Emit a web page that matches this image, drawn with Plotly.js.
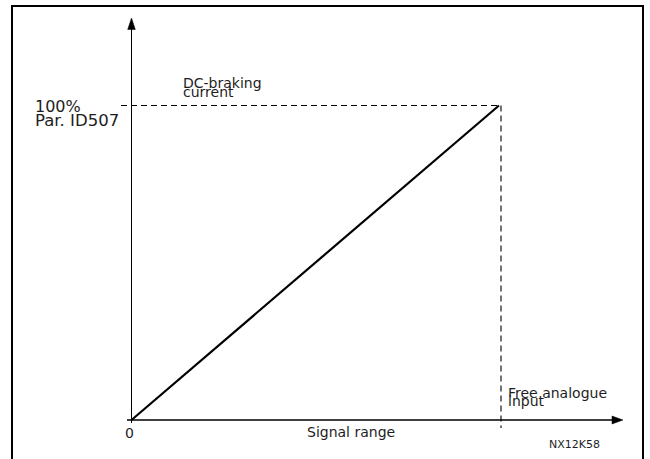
<!DOCTYPE html>
<html>
<head>
<meta charset="utf-8">
<script src="https://cdn.plot.ly/plotly-3.0.1.min.js"></script>
<style>
html,body{margin:0;padding:0;background:#fff;}
#chart{width:650px;height:459px;}
</style>
</head>
<body>
<div id="chart"></div>
<script>
// ---- data ----
const signalRange = [0, 1];          // fraction of free analogue input signal range
const brakingCurrent = [0, 100];     // % of Par. ID507 (DC-braking current)
const yLabels = ["100%", "Par. ID507"];
const yTitle = ["DC-braking", "current"];
const xTitle = ["Free analogue", "input"];
const xRangeLabel = "Signal range";
const originLabel = "0";
const figCode = "NX12K58";

// ---- layout geometry (pixels) ----
const W = 650, H = 459;
const X0PX = 131.5, X1PX = 499, Y0PX = 420, Y1PX = 105.5;
const xs = (X1PX - X0PX) / (signalRange[1] - signalRange[0]);
const ys = (Y0PX - Y1PX) / (brakingCurrent[1] - brakingCurrent[0]);
const xr = [signalRange[0] - X0PX / xs, signalRange[0] + (W - X0PX) / xs];
const yr = [brakingCurrent[0] - (H - Y0PX) / ys, brakingCurrent[0] + Y0PX / ys];
const px2x = px => xr[0] + px / xs;
const py2y = py => yr[1] - py / ys;
const dx = p => p / xs, dy = p => p / ys;
const px2p = px => px / W, py2p = py => 1 - py / H;

const xEnd = signalRange[signalRange.length - 1];
const yEnd = brakingCurrent[brakingCurrent.length - 1];
const ink = '#000';
const txt = '#1e1e1e';
const FONT = 'DejaVu Sans, Verdana, sans-serif';

const shapes = [
  // outer frame
  {type:'rect', xref:'paper', yref:'paper', x0:px2p(12), x1:px2p(643), y0:py2p(480), y1:py2p(6),
   line:{color:ink, width:2}, fillcolor:'rgba(0,0,0,0)'},
  // x axis
  {type:'line', xref:'x', yref:'y', x0:px2x(127), x1:px2x(614), y0:brakingCurrent[0], y1:brakingCurrent[0],
   line:{color:ink, width:1.4}},
  {type:'path', xref:'x', yref:'y',
   path:`M ${px2x(623)} ${brakingCurrent[0]} L ${px2x(612)} ${brakingCurrent[0]+dy(4)} L ${px2x(612)} ${brakingCurrent[0]-dy(4)} Z`,
   fillcolor:ink, line:{color:ink, width:0.5}},
  // y axis
  {type:'line', xref:'x', yref:'y', x0:signalRange[0], x1:signalRange[0], y0:py2y(423), y1:py2y(29),
   line:{color:ink, width:1}},
  {type:'path', xref:'x', yref:'y',
   path:`M ${signalRange[0]} ${py2y(18)} L ${signalRange[0]+dx(3.8)} ${py2y(29.5)} L ${signalRange[0]-dx(3.8)} ${py2y(29.5)} Z`,
   fillcolor:ink, line:{color:ink, width:0.5}},
  // dashed guides
  {type:'line', xref:'x', yref:'y', x0:px2x(121), x1:xEnd + dx(2), y0:yEnd, y1:yEnd,
   line:{color:ink, width:1.1, dash:'6px,4px'}},
  {type:'line', xref:'x', yref:'y', x0:xEnd + dx(2), x1:xEnd + dx(2), y0:yEnd, y1:py2y(428),
   line:{color:ink, width:1.1, dash:'6px,4px'}}
];

function ann(text, xpx, baselinePx, size, anchor) {
  return {
    text: text, xref:'paper', yref:'paper',
    x: px2p(xpx), y: py2p(baselinePx - 0.346 * size),
    xanchor: anchor || 'left', yanchor:'middle', showarrow:false,
    font:{family:FONT, size:size, color:txt}
  };
}

const annotations = [
  ann(yLabels[0], 33, 111.7, 16),
  ann(yLabels[1], 33, 126.7, 16.5),
  ann(yTitle[0], 181, 88.3, 14),
  ann(yTitle[1], 181, 96.9, 14),
  ann(xTitle[0], 506, 398.3, 14),
  ann(xTitle[1], 506, 406.2, 14),
  ann(xRangeLabel, 305, 436.7, 14),
  ann(originLabel, 129.3, 437.7, 14, 'center'),
  ann(figCode, 547, 448, 11)
];

const trace = {
  x: signalRange, y: brakingCurrent, type:'scatter', mode:'lines',
  line:{color:ink, width:2.2}, hoverinfo:'skip', showlegend:false
};

const layout = {
  width: W, height: H,
  margin:{l:0, r:0, t:0, b:0, pad:0},
  paper_bgcolor:'#fff', plot_bgcolor:'#fff',
  xaxis:{range:xr, visible:false, fixedrange:true},
  yaxis:{range:yr, visible:false, fixedrange:true},
  shapes: shapes,
  annotations: annotations,
  showlegend:false
};

Plotly.newPlot('chart', [trace], layout, {displayModeBar:false, staticPlot:true});
</script>
</body>
</html>
